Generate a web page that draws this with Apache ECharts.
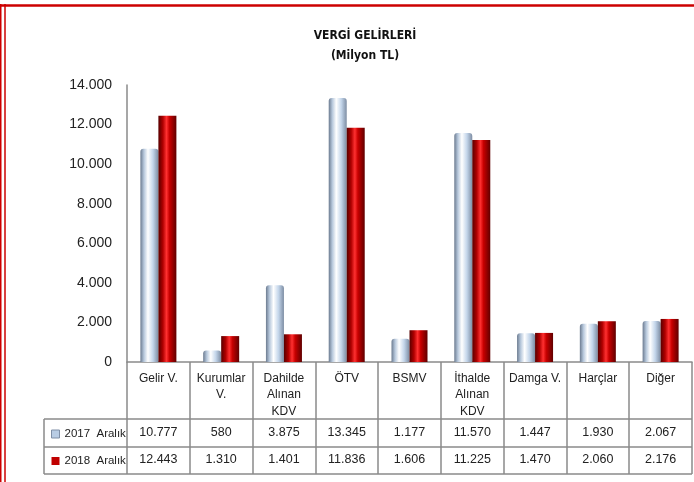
<!DOCTYPE html>
<html>
<head>
<meta charset="utf-8">
<script src="https://cdn.jsdelivr.net/npm/echarts@6/dist/echarts.min.js"></script>
<style>
  html, body { margin: 0; padding: 0; background: #fff; }
  #chart { width: 694px; height: 482px; }
</style>
</head>
<body>
<div id="chart"></div>
<script>
// kategoriler ve degerler (Milyon TL)
const categories = ['Gelir V.', 'Kurumlar\nV.', 'Dahilde\nAlınan\nKDV', 'ÖTV', 'BSMV', 'İthalde\nAlınan\nKDV', 'Damga V.', 'Harçlar', 'Diğer'];
const values2017 = [10777, 580, 3875, 13345, 1177, 11570, 1447, 1930, 2067];
const values2018 = [12443, 1310, 1401, 11836, 1606, 11225, 1470, 2060, 2176];
const seriesNames = ['2017  Aralık', '2018  Aralık'];

const gridLine = '#8a8a8a';

// binlik ayirici nokta
function fmt(v) {
  return String(v).replace(/\B(?=(\d{3})+(?!\d))/g, '.');
}

const blueGrad = new echarts.graphic.LinearGradient(0, 0, 1, 0, [
  { offset: 0, color: '#6c7b90' },
  { offset: 0.2, color: '#b7c8dc' },
  { offset: 0.42, color: '#ffffff' },
  { offset: 0.7, color: '#c3d5ea' },
  { offset: 1, color: '#7d8da3' }
]);
const redGrad = new echarts.graphic.LinearGradient(0, 0, 1, 0, [
  { offset: 0, color: '#580000' },
  { offset: 0.25, color: '#b00000' },
  { offset: 0.45, color: '#ff3030' },
  { offset: 0.62, color: '#c80000' },
  { offset: 1, color: '#600000' }
]);

const chart = echarts.init(document.getElementById('chart'));

const tableFont = { fontFamily: 'Liberation Sans', fontSize: 12, color: '#222' };

const option = {
  animation: false,
  title: {
    text: 'VERGİ GELİRLERİ\n(Milyon TL)',
    left: 360,
    top: 21,
    textAlign: 'center',
    textStyle: {
      fontFamily: "'DejaVu Sans Condensed', 'Liberation Sans', sans-serif",
      fontWeight: 'bold',
      fontSize: 12,
      lineHeight: 20,
      color: '#111'
    }
  },
  legend: {
    orient: 'vertical',
    left: 46,
    top: 423,
    itemWidth: 8,
    itemHeight: 8,
    itemGap: 15,
    selectedMode: false,
    textStyle: { ...tableFont, fontSize: 11.5 },
    data: [
      { name: seriesNames[0], icon: 'rect', itemStyle: { color: '#b8cce4', borderColor: '#7f8fa6', borderWidth: 1 } },
      { name: seriesNames[1], icon: 'rect', itemStyle: { color: '#c00000' } }
    ]
  },
  grid: { left: 127, right: 2, top: 85, bottom: 120 },
  xAxis: [
    {
      type: 'category',
      data: categories,
      axisLine: { lineStyle: { color: gridLine, width: 1.5 } },
      axisTick: { show: true, interval: 0, length: 112, lineStyle: { color: gridLine, width: 1.5 } },
      axisLabel: {
        interval: 0,
        margin: 8,
        verticalAlign: 'top',
        lineHeight: 16.5,
        ...tableFont
      }
    },
    {
      type: 'category',
      data: categories,
      position: 'bottom',
      offset: 71,
      axisLine: { show: false },
      axisTick: { show: false },
      axisLabel: {
        interval: 0,
        margin: 0,
        verticalAlign: 'middle',
        ...tableFont,
        fontSize: 12.5,
        formatter: (v, i) => fmt(values2017[i])
      }
    },
    {
      type: 'category',
      data: categories,
      position: 'bottom',
      offset: 98,
      axisLine: { show: false },
      axisTick: { show: false },
      axisLabel: {
        interval: 0,
        margin: 0,
        verticalAlign: 'middle',
        ...tableFont,
        fontSize: 12.5,
        formatter: (v, i) => fmt(values2018[i])
      }
    }
  ],
  yAxis: {
    type: 'value',
    min: 0,
    max: 14000,
    interval: 2000,
    splitLine: { show: false },
    axisTick: { show: false },
    axisLine: { show: true, lineStyle: { color: gridLine, width: 1.5 } },
    axisLabel: {
      margin: 15,
      fontFamily: 'Liberation Sans',
      fontSize: 14,
      color: '#222',
      formatter: v => fmt(v)
    }
  },
  series: [
    {
      name: seriesNames[0],
      type: 'bar',
      data: values2017,
      barWidth: 18,
      barGap: '0%',
      itemStyle: { color: blueGrad, borderRadius: [3, 3, 0, 0] }
    },
    {
      name: seriesNames[1],
      type: 'bar',
      data: values2018,
      barWidth: 18,
      itemStyle: { color: redGrad }
    }
  ],
  graphic: [
    // kirmizi cerceve
    { type: 'line', shape: { x1: 0, y1: 5.5, x2: 694, y2: 5.5 }, style: { stroke: '#cc0000', lineWidth: 2.5 } },
    { type: 'line', shape: { x1: 0.75, y1: 4, x2: 0.75, y2: 482 }, style: { stroke: '#cc0000', lineWidth: 1.5 } },
    { type: 'line', shape: { x1: 5, y1: 4, x2: 5, y2: 482 }, style: { stroke: '#cc0000', lineWidth: 1.5 } },
    // tablo cizgileri
    { type: 'line', shape: { x1: 44, y1: 419, x2: 692, y2: 419 }, style: { stroke: gridLine, lineWidth: 1.5 } },
    { type: 'line', shape: { x1: 44, y1: 447, x2: 692, y2: 447 }, style: { stroke: gridLine, lineWidth: 1.5 } },
    { type: 'line', shape: { x1: 44, y1: 474, x2: 692, y2: 474 }, style: { stroke: gridLine, lineWidth: 1.5 } },
    { type: 'line', shape: { x1: 44, y1: 419, x2: 44, y2: 474 }, style: { stroke: gridLine, lineWidth: 1.5 } }
  ]
};

chart.setOption(option);
</script>
</body>
</html>
